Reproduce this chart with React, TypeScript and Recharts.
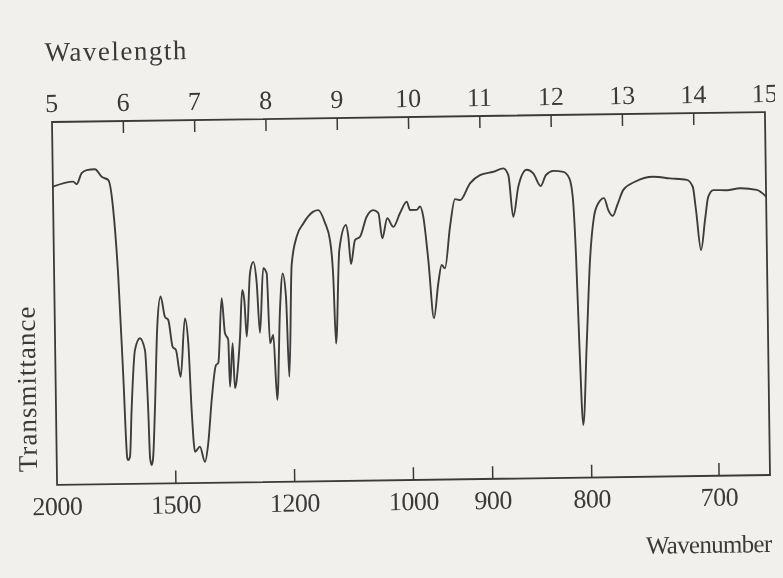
import React from 'react';
import { LineChart, Line, XAxis, YAxis, ReferenceArea, ReferenceLine } from 'recharts';

// Wavelength (micrometres) along the spectrum trace
const wavelength = [
  5.0, 5.286, 5.334, 5.406, 5.477, 5.593, 5.686, 5.778, 5.842, 5.899, 5.95, 5.99, 6.003, 6.028,
  6.06, 6.119, 6.191, 6.259, 6.293, 6.31, 6.331, 6.352, 6.387, 6.436, 6.489, 6.546, 6.592, 6.648,
  6.694, 6.754, 6.826, 6.868, 6.902, 6.941, 7.011, 7.079, 7.129, 7.185, 7.252, 7.285, 7.345, 7.384,
  7.429, 7.444, 7.491, 7.513, 7.565, 7.595, 7.635, 7.662, 7.689, 7.747, 7.795, 7.839, 7.875, 7.934,
  7.981, 8.014, 8.062, 8.105, 8.16, 8.206, 8.247, 8.278, 8.333, 8.409, 8.505, 8.647, 8.717, 8.81,
  8.875, 8.914, 8.94, 9.004, 9.102, 9.133, 9.165, 9.226, 9.297, 9.394, 9.488, 9.558, 9.609, 9.683,
  9.766, 9.863, 9.959, 10.003, 10.097, 10.144, 10.188, 10.25, 10.318, 10.386, 10.437, 10.482, 10.561,
  10.637, 10.707, 10.85, 10.992, 11.18, 11.32, 11.389, 11.45, 11.527, 11.648, 11.739, 11.841, 11.917,
  12.021, 12.161, 12.244, 12.288, 12.323, 12.352, 12.391, 12.456, 12.518, 12.582, 12.645, 12.727,
  12.784, 12.846, 12.912, 12.999, 13.164, 13.422, 13.656, 13.891, 13.973, 14.014, 14.077, 14.139,
  14.189, 14.261, 14.449, 14.636, 14.87, 15.0,
];

// Transmittance (% of the frame height) at each wavelength above
const transmittance = [
  82.2, 83.5, 82.8, 85.8, 86.6, 86.8, 84.7, 83.8, 75.5, 57.1, 29.6, 7.1, 6.6, 7.5,
  20.4, 36.9, 40.1, 36.8, 20.3, 7.0, 5.1, 7.0, 20.3, 43.2, 51.5, 45.9, 45.0, 37.6,
  36.7, 29.3, 45.4, 38.6, 20.1, 8.6, 10.0, 5.8, 11.0, 22.8, 32.4, 33.0, 50.8, 41.2,
  39.3, 26.4, 38.4, 26.0, 32.9, 40.1, 53.0, 50.2, 40.1, 57.6, 60.7, 54.9, 41.1, 58.9,
  57.5, 38.2, 40.5, 22.6, 47.3, 57.4, 51.0, 28.9, 59.7, 67.5, 71.1, 74.3, 74.7, 71.1,
  66.4, 56.3, 37.9, 63.6, 70.5, 67.3, 59.7, 66.3, 67.2, 72.7, 74.5, 73.7, 66.7, 72.2,
  69.8, 73.6, 76.7, 74.4, 74.4, 75.3, 72.5, 60.6, 44.5, 54.1, 59.1, 58.2, 69.6,
  77.2, 76.9, 81.5, 83.7, 84.6, 85.5, 83.6, 72.1, 80.4, 85.0, 84.0, 80.5, 83.5,
  84.6, 84.3, 82.5, 77.4, 60.9, 37.0, 14.5, 37.0, 59.9, 71.8, 75.5, 76.9,
  73.6, 72.0, 75.0, 79.1, 81.3, 82.6, 82.1, 81.6, 79.7, 73.3, 62.2, 70.5,
  76.9, 78.7, 78.6, 79.1, 78.6, 76.7,
];

const wavelengthTicks = [5, 6, 7, 8, 9, 10, 11, 12, 13, 14, 15];
const wavenumberTicks = [2000, 1500, 1200, 1000, 900, 800, 700];

const spectrum = wavelength.map((wl, i) => ({ wl, t: transmittance[i] }));
const bottomTickPositions = wavenumberTicks.map((wn) => 10000 / wn);

const INK = '#3a3a3a';
const FONT = '"Liberation Serif", "Times New Roman", serif';

const TopTick = (props: any) => {
  const { x, y, payload } = props;
  return (
    <text x={x} y={y - 10} textAnchor="middle" fontFamily={FONT} fontSize={26} fill={INK}>
      {payload.value}
    </text>
  );
};

const BottomTick = (props: any) => {
  const { x, y, payload } = props;
  return (
    <text x={x} y={y + 30} textAnchor="middle" fontFamily={FONT} fontSize={26} fill={INK} letterSpacing={-0.5}>
      {Math.round(10000 / payload.value)}
    </text>
  );
};

export default function App() {
  return (
    <>
      <div style={{ position: 'fixed', inset: 0, background: '#f2f0ed', zIndex: -1 }} />
      <div style={{ width: 775, height: 562, overflow: 'hidden' }}>
        <div
          style={{
            position: 'relative',
            width: 775,
            height: 560,
            transform: 'rotate(-0.8deg)',
            transformOrigin: '403px 290.5px',
          }}
        >
          <LineChart
            width={775}
            height={560}
            data={spectrum}
            margin={{ top: 79, right: 15.5, bottom: 58, left: 46.5 }}
          >
            <XAxis
              xAxisId="top"
              orientation="top"
              type="number"
              dataKey="wl"
              domain={[5, 15]}
              ticks={wavelengthTicks}
              height={30}
              axisLine={false}
              tickLine={false}
              tickSize={0}
              tickMargin={0}
              tick={<TopTick />}
              interval={0}
              allowDataOverflow
            />
            <XAxis
              xAxisId="bottom"
              orientation="bottom"
              type="number"
              dataKey="wl"
              domain={[5, 15]}
              ticks={bottomTickPositions}
              height={30}
              axisLine={false}
              tickLine={false}
              tickSize={0}
              tickMargin={0}
              tick={<BottomTick />}
              interval={0}
              allowDataOverflow
            />
            <YAxis type="number" domain={[0, 100]} hide allowDataOverflow />
            <ReferenceArea
              xAxisId="bottom"
              x1={5}
              x2={15}
              y1={0}
              y2={100}
              fill="none"
              stroke={INK}
              strokeWidth={1.8}
              fillOpacity={0}
            />
            {wavelengthTicks.slice(1, -1).map((w) => (
              <ReferenceLine
                key={'tt' + w}
                xAxisId="bottom"
                segment={[{ x: w, y: 100 }, { x: w, y: 96.7 }]}
                stroke={INK}
                strokeWidth={1.5}
              />
            ))}
            {bottomTickPositions.slice(1).map((w) => (
              <ReferenceLine
                key={'bt' + w}
                xAxisId="bottom"
                segment={[{ x: w, y: 0 }, { x: w, y: 3.5 }]}
                stroke={INK}
                strokeWidth={1.5}
              />
            ))}
            <Line
              xAxisId="bottom"
              type="monotone"
              dataKey="t"
              stroke="#3d3d3d"
              strokeWidth={1.9}
              dot={false}
              isAnimationActive={false}
            />
          </LineChart>
          <svg
            width={775}
            height={560}
            style={{ position: 'absolute', left: 0, top: 0, pointerEvents: 'none' }}
          >
            <text x={40} y={48} fontFamily={FONT} fontSize={27} fill={INK} letterSpacing={1.5}>
              Wavelength
            </text>
            <text x={760} y={549} textAnchor="end" fontFamily={FONT} fontSize={25} fill={INK} letterSpacing={-0.7}>
              Wavenumber
            </text>
            <text
              x={26.5}
              y={375.6}
              transform="rotate(-90 26.5 375.6)"
              textAnchor="middle"
              fontFamily={FONT}
              fontSize={27}
              fill={INK}
              letterSpacing={1}
            >
              Transmittance
            </text>
          </svg>
        </div>
      </div>
    </>
  );
}
